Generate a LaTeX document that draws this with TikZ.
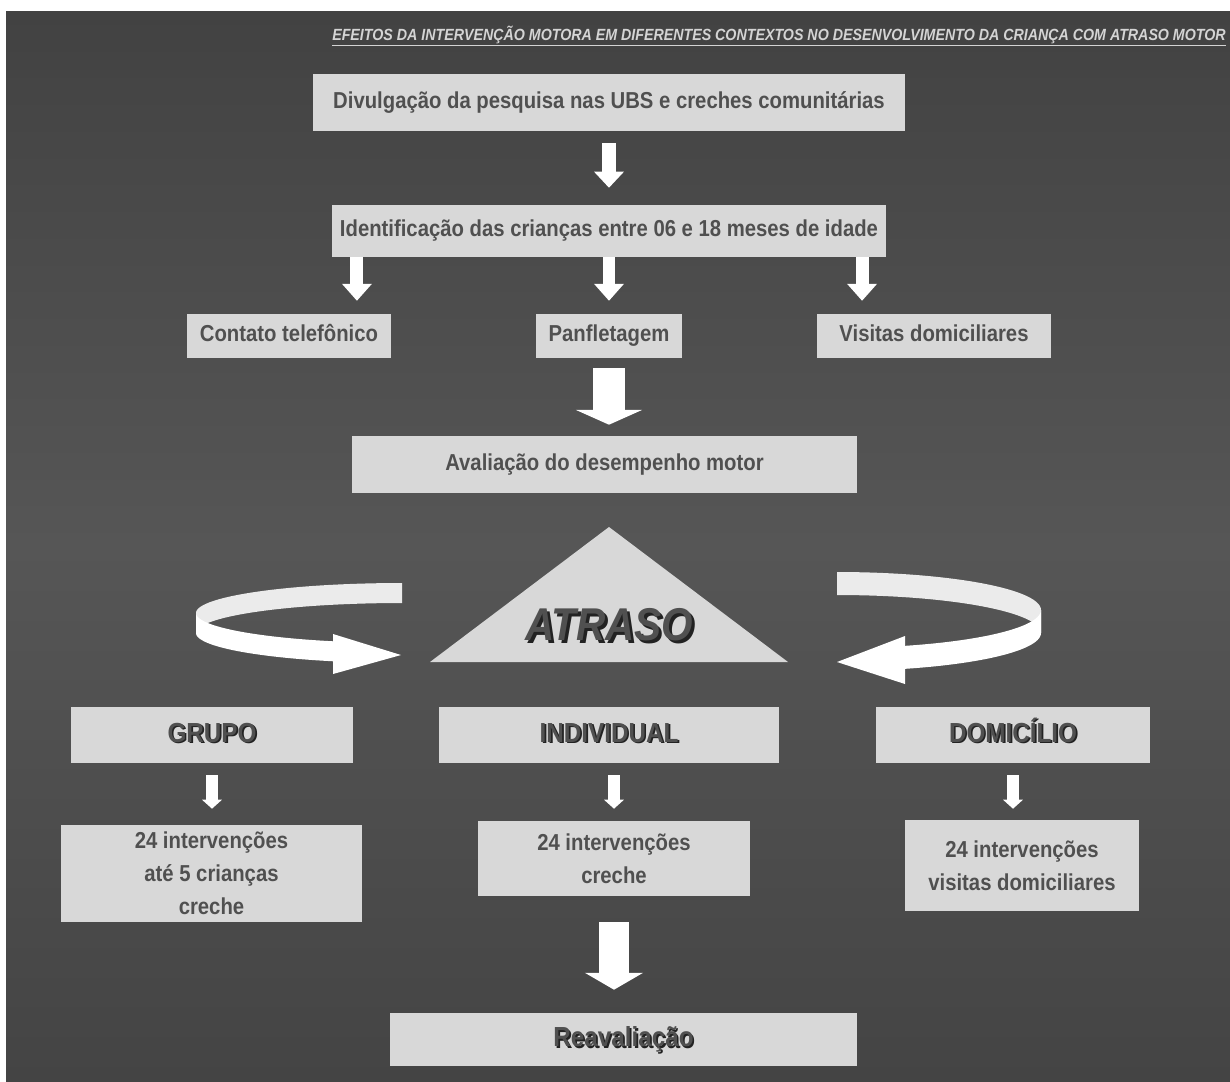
\documentclass[tikz,border=0pt]{standalone}
\usepackage{fontspec}
\setmainfont{Liberation Sans}
\newfontfamily\narrowsf[FakeStretch=0.88]{Liberation Sans}
\usetikzlibrary{arrows.meta}

\definecolor{boxgray}{HTML}{D8D8D8}
\definecolor{txtgray}{HTML}{505050}
\definecolor{shadowgray}{HTML}{222222}
\definecolor{titlegray}{HTML}{D4D4D4}
\definecolor{bgtop}{HTML}{424242}
\definecolor{bgmid}{HTML}{565656}
\definecolor{bgbot}{HTML}{444444}
\definecolor{ribbonback}{HTML}{EBEBEB}

\newcommand{\shadowtxt}[2]{\makebox[0pt][l]{\hspace{#1}\raisebox{-#1}{\color{shadowgray}#2}}#2}

\tikzset{
  box/.style={fill=boxgray, text=txtgray, inner sep=0pt, align=center,
    font=\narrowsf\bfseries\fontsize{16.4}{23.5}\selectfont},
  oneline/.style={box, text height=11.7pt, text depth=3.5pt},
  headbox/.style={box, text height=14pt, text depth=4pt,
    font=\narrowsf\bfseries\fontsize{19.6}{23}\selectfont},
  blockarrow/.style n args={3}{white, line width=#1,
    -{Triangle[width=#2, length=#3, line width=0pt]}},
}

\begin{document}
\begin{tikzpicture}[x=0.025cm, y=-0.025cm]

% BACKGROUND

\useasboundingbox (0,0) rectangle (1230,1081);
\fill[white] (0,0) rectangle (1230,1081);
\shade[top color=bgtop, bottom color=bgbot, middle color=bgmid] (6,11) rectangle (1230,1081);

\node[anchor=base east, inner sep=0pt, text=titlegray,
  font=\narrowsf\bfseries\itshape\fontsize{11.5}{13}\selectfont] (titulo) at (1226,40)
  {\underline{EFEITOS DA INTERVENÇÃO MOTORA EM DIFERENTES CONTEXTOS NO DESENVOLVIMENTO DA CRIANÇA COM ATRASO MOTOR}};

% RECRUTAMENTO

\node[oneline, minimum width=14.8cm, minimum height=1.425cm] (divulga) at (609,102.5)
  {Divulgação da pesquisa nas UBS e creches comunitárias};
\node[oneline, minimum width=13.85cm, minimum height=1.3cm] (ident) at (609,231)
  {Identificação das crianças entre 06 e 18 meses de idade};

\node[oneline, minimum width=5.1cm, minimum height=1.1cm] (contato) at (289,336) {Contato telefônico};
\node[oneline, minimum width=3.65cm, minimum height=1.1cm] (panfleta) at (609,336) {Panfletagem};
\node[oneline, minimum width=5.85cm, minimum height=1.1cm] (visitas) at (934,336) {Visitas domiciliares};

\coordinate (tl) at ([xshift=-6.3cm]ident.south);
\coordinate (tr) at ([xshift=6.325cm]ident.south);

\draw[blockarrow={10pt}{21.3pt}{11.4pt}, shorten <=0.3cm, shorten >=0.425cm] (divulga.south) -- (ident.north);
\draw[blockarrow={9.2pt}{21.3pt}{12pt}, shorten >=0.325cm] (tl) -- (tl |- contato.north);
\draw[blockarrow={9.2pt}{21.3pt}{12pt}, shorten >=0.325cm] (ident.south) -- (panfleta.north);
\draw[blockarrow={9.2pt}{21.3pt}{12pt}, shorten >=0.325cm] (tr) -- (tr |- visitas.north);

% AVALIACAO

\node[oneline, minimum width=12.625cm, minimum height=1.425cm] (avalia) at (604.5,464.5)
  {Avaliação do desempenho motor};
\draw[blockarrow={22.8pt}{47pt}{10.5pt}, shorten <=0.25cm, shorten >=0.275cm] (panfleta.south) -- (panfleta.south |- avalia.north);

\coordinate (apex) at (609,527);
\fill[boxgray] (apex) -- (430,662) -- (788,662) -- cycle;
\node[inner sep=0pt, text=txtgray, font=\narrowsf\bfseries\itshape\fontsize{32.7}{36}\selectfont] (atraso) at (609,626)
  {\shadowtxt{2.2pt}{ATRASO}};

% left ribbon
\fill[ribbonback] plot[domain=270:180, samples=40, variable=\t] ({402+206*cos(\t)},{613+30*sin(\t)})
  -- plot[domain=180:270, samples=40, variable=\t] ({402+206*cos(\t)},{633+30*sin(\t)}) -- cycle;
\fill[white] plot[domain=180:109.6, samples=40, variable=\t] ({402+206*cos(\t)},{613+30*sin(\t)})
  -- plot[domain=109.6:180, samples=40, variable=\t] ({402+206*cos(\t)},{633+30*sin(\t)}) -- cycle;
\fill[white] (333,634) -- (401,655) -- (333,674) -- cycle;

% right ribbon
\fill[ribbonback] plot[domain=-90:0, samples=40, variable=\t] ({837+204*cos(\t)},{610+38*sin(\t)})
  -- plot[domain=0:-90, samples=40, variable=\t] ({837+204*cos(\t)},{633+38*sin(\t)}) -- cycle;
\fill[white] plot[domain=0:70.5, samples=40, variable=\t] ({837+204*cos(\t)},{610+38*sin(\t)})
  -- plot[domain=70.5:0, samples=40, variable=\t] ({837+204*cos(\t)},{633+38*sin(\t)}) -- cycle;
\fill[white] (905,636) -- (837,662) -- (905,684) -- cycle;

% INTERVENCOES

\node[headbox, minimum width=7.05cm, minimum height=1.4cm] (grupo) at (212,735) {\shadowtxt{1.2pt}{GRUPO}};
\node[headbox, minimum width=8.5cm, minimum height=1.4cm] (indiv) at (609,735) {\shadowtxt{1.2pt}{INDIVIDUAL}};
\node[headbox, minimum width=6.85cm, minimum height=1.4cm] (domic) at (1013,735) {\shadowtxt{1.2pt}{DOMICÍLIO}};

\node[box, minimum width=7.525cm, minimum height=2.425cm] (g24) at (211.5,873.5)
  {24 intervenções\\até 5 crianças\\creche};
\node[box, minimum width=6.8cm, minimum height=1.875cm] (i24) at (614,858.5)
  {24 intervenções\\creche};
\node[box, minimum width=5.85cm, minimum height=2.275cm] (d24) at (1022,865.5)
  {24 intervenções\\visitas domiciliares};

\draw[blockarrow={8.5pt}{14.2pt}{6.4pt}, shorten <=0.3cm, shorten >=0.4cm] (grupo.south) -- (grupo.south |- g24.north);
\draw[blockarrow={8.5pt}{14.2pt}{6.4pt}, shorten <=0.3cm, shorten >=0.3cm] (i24.north |- indiv.south) -- (i24.north);
\draw[blockarrow={8.5pt}{14.2pt}{6.4pt}, shorten <=0.3cm, shorten >=0.275cm] (domic.south) -- (domic.south |- d24.north);

% REAVALIACAO

\node[headbox, minimum width=11.675cm, minimum height=1.325cm] (reaval) at (623.5,1039.5) {\shadowtxt{1.2pt}{Reavaliação}};
\draw[blockarrow={21.3pt}{41.3pt}{12pt}, shorten <=0.65cm, shorten >=0.575cm] (i24.south) -- (i24.south |- reaval.north);

\end{tikzpicture}
\end{document}
